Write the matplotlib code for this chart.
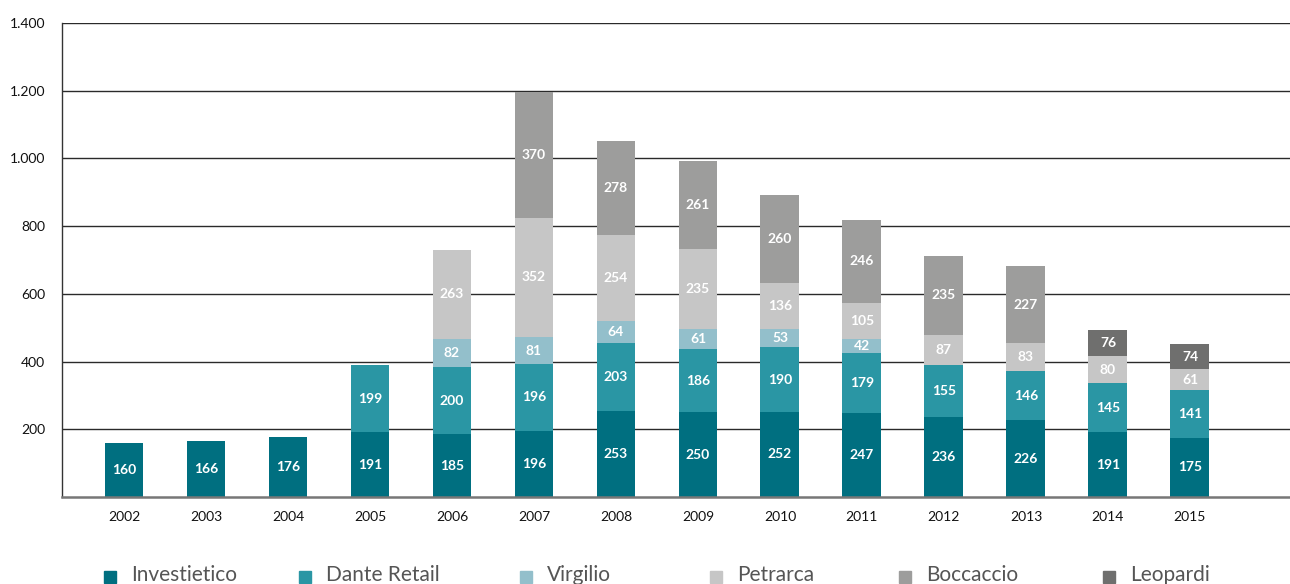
import matplotlib
matplotlib.use("Agg")
import matplotlib.pyplot as plt
from matplotlib.patches import Rectangle
import numpy as np

plt.rcParams['font.family'] = ['Lato', 'DejaVu Sans']

years = ["2002", "2003", "2004", "2005", "2006", "2007", "2008",
         "2009", "2010", "2011", "2012", "2013", "2014", "2015"]

series_names = ["Investietico", "Dante Retail", "Virgilio",
                "Petrarca", "Boccaccio", "Leopardi"]
investietico = [160, 166, 176, 191, 185, 196, 253, 250, 252, 247, 236, 226, 191, 175]
dante_retail = [0, 0, 0, 199, 200, 196, 203, 186, 190, 179, 155, 146, 145, 141]
virgilio     = [0, 0, 0, 0, 82, 81, 64, 61, 53, 42, 0, 0, 0, 0]
petrarca     = [0, 0, 0, 0, 263, 352, 254, 235, 136, 105, 87, 83, 80, 61]
boccaccio    = [0, 0, 0, 0, 0, 370, 278, 261, 260, 246, 235, 227, 0, 0]
leopardi     = [0, 0, 0, 0, 0, 0, 0, 0, 0, 0, 0, 0, 76, 74]

colors = ["#006f80", "#2a96a4", "#93bfcb", "#c6c6c6", "#9d9d9c", "#6f6f6e"]
y_ticks = [200, 400, 600, 800, 1000, 1200, 1400]
y_tick_labels = ["200", "400", "600", "800", "1.000", "1.200", "1.400"]

fig = plt.figure(figsize=(12.9, 5.84), dpi=100)
ax = fig.add_axes([62 / 1290, 1 - 497 / 584, 1 - 62 / 1290, (497 - 23) / 584])

x = np.arange(len(years))
bottom = np.zeros(len(years))
all_series = [investietico, dante_retail, virgilio, petrarca, boccaccio, leopardi]
for vals, col in zip(all_series, colors):
    vals = np.array(vals, dtype=float)
    ax.bar(x, vals, width=0.475, bottom=bottom, color=col, zorder=2)
    for xi, v, b in zip(x, vals, bottom):
        if v > 0:
            ax.text(xi, b + v / 2, f"{int(v)}", ha="center", va="center",
                    color="white", fontsize=10, fontweight="bold", zorder=3)
    bottom += vals

ax.set_xlim(-0.756, 14.22)
ax.set_ylim(0, 1400)
ax.set_yticks(y_ticks)
ax.set_yticklabels(y_tick_labels)
ax.set_xticks(x)
ax.set_xticklabels(years)
ax.tick_params(axis="both", length=0, labelsize=10, colors="#111111")
ax.tick_params(axis="y", pad=12)
ax.tick_params(axis="x", pad=10)
ax.grid(axis="y", color="#2a2a2a", linewidth=1.0, zorder=0)
ax.set_axisbelow(True)
for side in ["top", "right"]:
    ax.spines[side].set_visible(False)
ax.spines["left"].set_color("#333333")
ax.spines["left"].set_linewidth(1.0)
ax.spines["bottom"].set_color("#777777")
ax.spines["bottom"].set_linewidth(1.8)

# legend row along the bottom edge
legend_x = [104, 299, 520, 710, 899, 1103]
for name, col, lx in zip(series_names, colors, legend_x):
    fig.patches.append(Rectangle((lx / 1290, 1 - 583 / 584), 12 / 1290, 12 / 584,
                                 transform=fig.transFigure, color=col))
    fig.text((lx + 27) / 1290, 1 - 575 / 584, name, ha="left", va="center",
             fontsize=15, color="#555555")

fig.savefig("out.png", dpi=100)
